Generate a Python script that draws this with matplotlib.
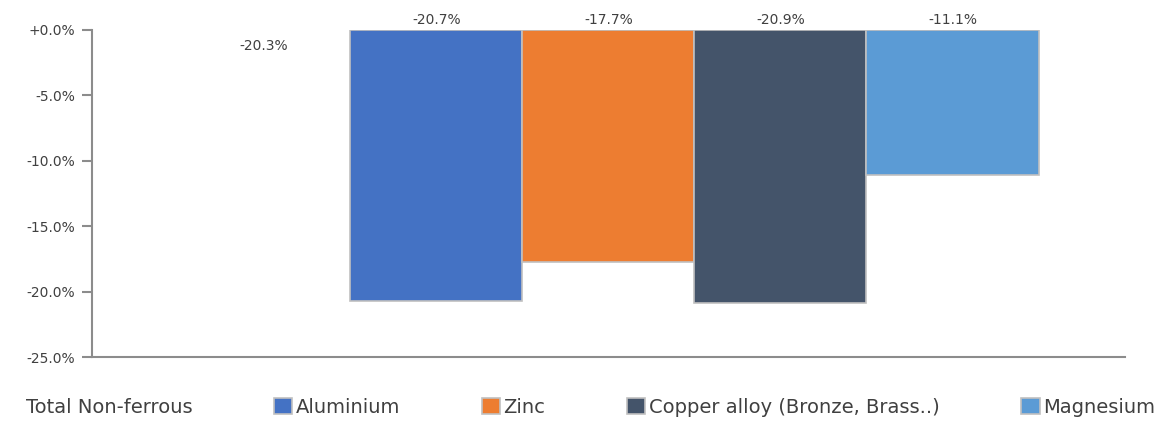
import matplotlib.pyplot as plt
from matplotlib.ticker import FuncFormatter

plt.rcParams['font.family'] = ['DejaVu Sans']

# Change in production, one group with five series
series = ['Total Non-ferrous', 'Aluminium', 'Zinc', 'Copper alloy (Bronze, Brass..)', 'Magnesium']
values = [-20.3, -20.7, -17.7, -20.9, -11.1]
colors = ['#ffffff', '#4472C4', '#ED7D31', '#44546A', '#5B9BD5']
edges = ['#ffffff', '#c0c0c0', '#c0c0c0', '#c0c0c0', '#c0c0c0']
yticks = [0, -5, -10, -15, -20, -25]

fig = plt.figure(figsize=(11.68, 4.22), dpi=100)
ax = fig.add_axes([0.0788, 0.154, 0.884, 0.775])

handles = []
for i, (name, v, c, e) in enumerate(zip(series, values, colors, edges)):
    b = ax.bar(i, v, width=1.0, color=c, edgecolor=e, linewidth=1.2, label=name)
    handles.append(b)
    if i == 0:
        ax.text(i, -1.2, f'{v:.1f}%', ha='center', va='center', fontsize=10, color='#404040')
    else:
        ax.text(i, 0.25, f'{v:.1f}%', ha='center', va='bottom', fontsize=10, color='#404040')

ax.set_xlim(-1.0, 5.0)
ax.set_ylim(-25, 0)
ax.set_yticks(yticks)
ax.yaxis.set_major_formatter(FuncFormatter(lambda y, _: f'{y:+.1f}%' if y == 0 else f'{y:.1f}%'))
ax.set_xticks([])
for s in ['top', 'right']:
    ax.spines[s].set_visible(False)
for s in ['left', 'bottom']:
    ax.spines[s].set_color('#8c8c8c')
    ax.spines[s].set_linewidth(1.5)
ax.tick_params(axis='y', length=7, width=1.5, color='#8c8c8c', labelsize=10, labelcolor='#404040', pad=5)

fig.legend(handles=handles, labels=series, loc='center', bbox_to_anchor=(0.496, 0.035), ncol=5,
           frameon=False, fontsize=14, handlelength=0.95, handleheight=0.95, handletextpad=0.17,
           columnspacing=4.2, labelcolor='#404040', borderpad=0.0)

fig.savefig('out.png', dpi=100)
